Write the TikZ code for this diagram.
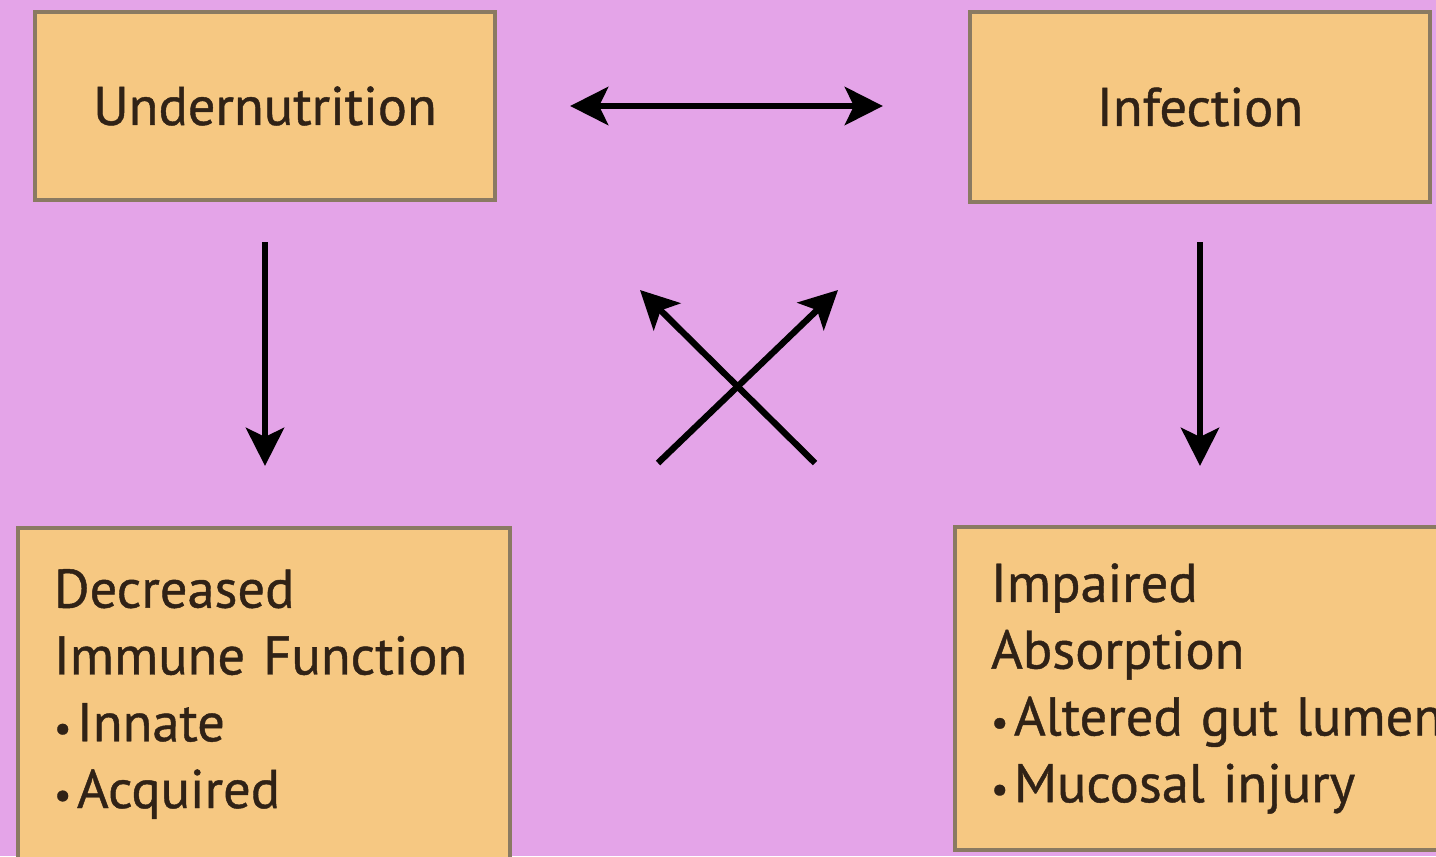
\documentclass[tikz,border=0pt]{standalone}
\usepackage{fontspec}
\setmainfont[FakeBold=0.8]{PT Sans}
\usetikzlibrary{arrows.meta,positioning}

\definecolor{bgpink}{RGB}{228,164,232}
\definecolor{boxfill}{RGB}{246,200,130}
\definecolor{boxline}{RGB}{138,122,98}
\definecolor{inkbrown}{RGB}{48,34,22}

\newcommand{\dotitem}{{\fontsize{11}{11}\selectfont•}\hspace{0.1em}}

\begin{document}
\begin{tikzpicture}[
  box/.style={draw=boxline, line width=1.2pt, fill=boxfill, align=center, text=inkbrown,
    minimum width=4.6cm, minimum height=1.88cm, font=\fontsize{15.5}{19}\selectfont},
  listbox/.style={draw=boxline, line width=1.2pt, fill=boxfill, align=left, text=inkbrown,
    inner xsep=0.36cm, font=\fontsize{15.5}{19}\selectfont},
  tip/.style={Stealth[length=0.38cm,width=0.38cm,inset=0.09cm]},
  arrow/.style={-{Stealth[length=0.38cm,width=0.38cm,inset=0.09cm]}, line width=1.8pt},
  dblarrow/.style={{Stealth[length=0.38cm,width=0.38cm,inset=0.09cm]}-{Stealth[length=0.38cm,width=0.38cm,inset=0.09cm]}, line width=1.8pt}
]
\fill[bgpink] (0,0) rectangle (14.36,8.56);
\useasboundingbox (0,0) rectangle (14.36,8.56);

\node[box] (under) at (2.65,7.50) {Undernutrition};
\node[box, minimum height=1.90cm] (infect) at (12.00,7.49) {Infection};
\node[listbox, text width=4.20cm, minimum height=3.32cm] (immune) at (2.64,1.62)
  {Decreased\\Immune Function\\\dotitem Innate\\\dotitem Acquired};
\node[listbox, text width=4.70cm, minimum height=3.23cm] (absorb) at (12.26,1.675)
  {Impaired\\Absorption\\\dotitem Altered gut lumen\\\dotitem Mucosal injury};

\coordinate (crossA) at (6.58,3.93);
\coordinate (crossB) at (8.38,5.66);
\coordinate (crossC) at (8.15,3.93);
\coordinate (crossD) at (6.40,5.66);

\draw[dblarrow, shorten <=0.73cm, shorten >=0.85cm] (under.east) -- (under.east -| infect.west);
\draw[arrow, shorten <=0.40cm, shorten >=0.60cm] (under.south) -- (under.south |- immune.north);
\draw[arrow, shorten <=0.38cm, shorten >=0.59cm] (infect.south) -- (infect.south |- absorb.north);
\draw[arrow] (crossA) -- (crossB);
\draw[arrow] (crossC) -- (crossD);
\end{tikzpicture}
\end{document}
